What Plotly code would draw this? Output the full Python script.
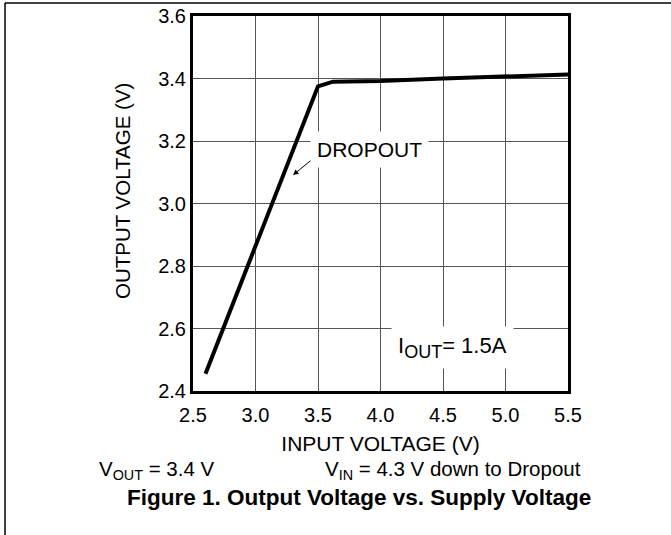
import plotly.graph_objects as go

# Data
vin = [2.6, 3.5, 3.62, 4.0, 4.5, 5.0, 5.5]
vout = [2.455, 3.375, 3.390, 3.392, 3.400, 3.406, 3.413]

x_ticks = [2.5, 3.0, 3.5, 4.0, 4.5, 5.0, 5.5]
x_tick_labels = ["2.5", "3.0", "3.5", "4.0", "4.5", "5.0", "5.5"]
y_ticks = [2.4, 2.6, 2.8, 3.0, 3.2, 3.4, 3.6]
y_tick_labels = ["2.4", "2.6", "2.8", "3.0", "3.2", "3.4", "3.6"]

FONT = "Arial, 'Liberation Sans', sans-serif"
W, H = 671, 535
L, R, T, B = 193, 103, 16, 144
PW, PH = W - L - R, H - T - B


def px(xp):
    return (xp - L) / PW


def py(yp):
    return (H - B - yp) / PH


fig = go.Figure()
fig.add_trace(go.Scatter(x=vin, y=vout, mode="lines",
                         line=dict(color="black", width=4),
                         showlegend=False, hoverinfo="skip"))

fig.update_layout(
    width=W, height=H,
    margin=dict(l=L, r=R, t=T, b=B, autoexpand=False),
    paper_bgcolor="white", plot_bgcolor="white",
    font=dict(family=FONT, size=20, color="black"),
    xaxis=dict(range=[2.5, 5.5], tickvals=x_ticks, ticktext=x_tick_labels,
               showgrid=True, gridcolor="#555", gridwidth=1,
               showline=True, linecolor="black", linewidth=3, mirror=True,
               ticks="", zeroline=False, ticklabelstandoff=4, automargin=False,
               tickfont=dict(size=20),
               title=dict(text="INPUT VOLTAGE (V)", font=dict(size=21), standoff=12)),
    yaxis=dict(range=[2.4, 3.6], tickvals=y_ticks, ticktext=y_tick_labels,
               showgrid=True, gridcolor="#555", gridwidth=1,
               showline=True, linecolor="black", linewidth=3, mirror=True,
               ticks="", zeroline=False, automargin=False,
               tickfont=dict(size=20)),
)

# Y-axis title (placed as annotation to match its off-centre position)
fig.add_annotation(x=px(122), y=py(191), xref="paper", yref="paper",
                   xanchor="center", yanchor="middle", textangle=-90,
                   text="OUTPUT VOLTAGE (V)", showarrow=False,
                   font=dict(size=20.5))

# DROPOUT label and arrow
fig.add_annotation(x=3.908, y=3.174, xref="x", yref="y", text="DROPOUT",
                   showarrow=False, bgcolor="white", borderpad=6,
                   font=dict(size=21))
fig.add_annotation(x=3.3, y=3.091, xref="x", yref="y", text=" ",
                   showarrow=True, ax=22, ay=-18, arrowhead=2, arrowsize=1.1,
                   arrowwidth=1, arrowcolor="black")

# I_OUT label
fig.add_annotation(x=4.572, y=2.538, xref="x", yref="y",
                   text="I<sub><span style='font-size:18px'>OUT</span></sub>= 1.5A",
                   showarrow=False, bgcolor="white", borderpad=6,
                   font=dict(size=22))

# Conditions and caption
fig.add_annotation(x=px(97), y=py(470), xref="paper", yref="paper",
                   xanchor="left", yanchor="middle",
                   text="V<sub>OUT</sub> = 3.4 V", showarrow=False,
                   font=dict(size=20.5))
fig.add_annotation(x=px(323), y=py(470), xref="paper", yref="paper",
                   xanchor="left", yanchor="middle",
                   text="V<sub>IN</sub> = 4.3 V down to Dropout", showarrow=False,
                   font=dict(size=20.5))
fig.add_annotation(x=px(359), y=py(497), xref="paper", yref="paper",
                   xanchor="center", yanchor="middle",
                   text="<b>Figure 1. Output Voltage vs. Supply Voltage</b>",
                   showarrow=False, font=dict(size=22.5))

# Page frame (top and left rules)
fig.add_shape(type="line", xref="paper", yref="paper",
              x0=px(5), x1=px(671), y0=py(3), y1=py(3),
              line=dict(color="black", width=1.5))
fig.add_shape(type="line", xref="paper", yref="paper",
              x0=px(5), x1=px(5), y0=py(3), y1=py(535),
              line=dict(color="black", width=1.5))

fig.write_html(
    "out.html",
    config={"displayModeBar": False},
    post_script="document.body.style.margin='0';",
)
